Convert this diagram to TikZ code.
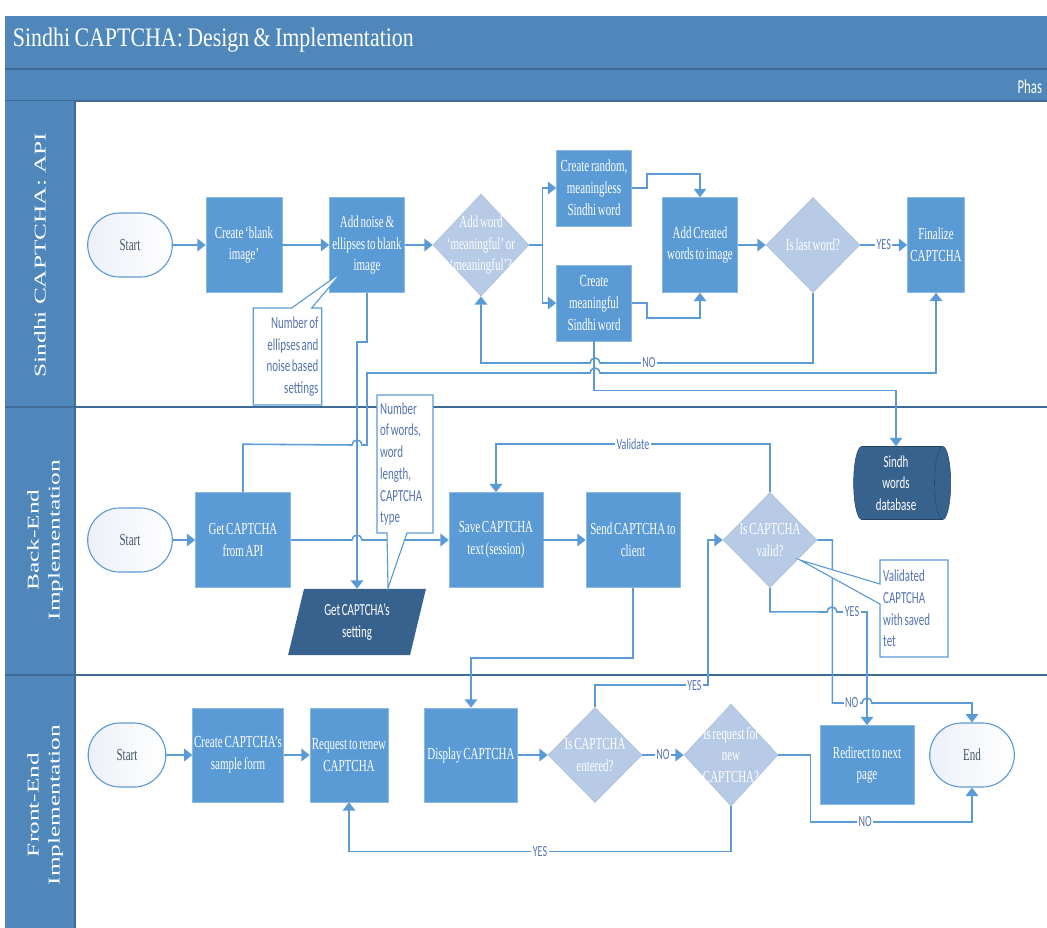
\documentclass[tikz,border=0pt]{standalone}
\usepackage{fontspec}
\setmainfont{Liberation Serif}
\newfontfamily\boxfont[FakeStretch=0.65, WordSpace=0.65]{Liberation Serif}
\newfontfamily\notefont[FakeStretch=0.65, WordSpace=0.65]{Carlito}
\newfontfamily\titlefont[FakeStretch=0.82, WordSpace=0.8]{Liberation Serif}
\usepackage{tikz}
\usetikzlibrary{positioning,arrows.meta,shapes.geometric,shapes.misc,shapes.callouts,calc}

\definecolor{hdrblue}{RGB}{79,135,186}
\definecolor{hdrline}{RGB}{62,108,150}
\definecolor{procblue}{RGB}{91,155,213}
\definecolor{decblue}{RGB}{183,202,230}
\definecolor{datablue}{RGB}{56,98,142}
\definecolor{linkblue}{RGB}{91,155,213}
\definecolor{notetext}{RGB}{84,116,176}
\definecolor{termtext}{RGB}{68,84,106}
\definecolor{termshade}{RGB}{236,240,248}

\begin{document}
\begin{tikzpicture}[
  x=0.025cm, y=-0.025cm,
  every node/.style={align=center},
  proc/.style   ={rectangle, fill=procblue, draw=procblue!70!white, text=white,
                  font=\boxfont\fontsize{12}{15.5}\selectfont, inner sep=1pt,
                  minimum width=18.75mm, minimum height=23.75mm},
  dec/.style    ={diamond, fill=decblue, draw=decblue!85!gray, inner sep=0pt,
                  minimum width=23.5mm, minimum height=23.75mm},
  dectext/.style={text=white, font=\boxfont\fontsize{12}{15.5}\selectfont,
                  align=center, inner sep=0pt},
  term/.style   ={rounded rectangle, draw=procblue, line width=0.8pt,
                  left color=termshade, right color=white, text=termtext,
                  font=\boxfont\fontsize{12}{15.5}\selectfont,
                  minimum width=23.5mm, minimum height=16mm},
  data/.style   ={trapezium, trapezium left angle=75, trapezium right angle=105,
                  trapezium stretches=true, fill=datablue, text=white,
                  font=\notefont\fontsize{12}{15.5}\selectfont,
                  minimum width=34.5mm, minimum height=16.5mm, inner sep=0pt},
  db/.style     ={cylinder, shape border rotate=0, aspect=0.25, inner xsep=0pt,
                  cylinder uses custom fill, cylinder body fill=datablue,
                  cylinder end fill=datablue, draw=datablue!70!black,
                  text=white, font=\notefont\fontsize{12}{15.5}\selectfont,
                  minimum width=18.25mm, minimum height=24.25mm},
  note/.style   ={rectangle callout, draw=linkblue, line width=0.8pt, fill=white,
                  text=notetext, font=\notefont\fontsize{12}{15.5}\selectfont,
                  callout pointer width=5mm, inner sep=0.8mm},
  link/.style   ={draw=linkblue, line width=1.1pt},
  flow/.style   ={link, -{Triangle[length=6pt, width=9pt]}},
  lbl/.style    ={fill=white, inner sep=1pt, text=notetext,
                  font=\notefont\fontsize{11}{12}\selectfont},
  lane/.style   ={text=white, rotate=90, font=\fontsize{18}{23}\selectfont},
]

\useasboundingbox (0,0) rectangle (1047,928);

% Header bands and swimlanes
\fill[hdrblue] (5,16) rectangle (1047,101);
\draw[hdrline, line width=1.5pt] (5,69) -- (1047,69);
\draw[hdrline, line width=1pt] (5,101) -- (1047,101);
\fill[hdrblue] (5,101) rectangle (75,928);
\draw[hdrline, line width=0.8pt] (75,101) -- (75,928);
\draw[hdrline, line width=1.6pt] (5,407) -- (1047,407);
\draw[hdrline, line width=1.6pt] (5,675) -- (1047,675);

\node[anchor=west, text=white, font=\titlefont\fontsize{19}{21}\selectfont] (title) at (8,40)
  {Sindhi CAPTCHA: Design \& Implementation};
\node[anchor=east, text=white, font=\notefont\fontsize{14}{16}\selectfont] (phase) at (1047,87) {Phas};

\node[lane] (lane1) at (40,255) {\scalebox{1}[0.65]{Sindhi CAPTCHA: API}};
\node[lane] (lane2) at (45,540) {\scalebox{1}[0.65]{\begin{tabular}{@{}c@{}}Back-End\\Implementation\end{tabular}}};
\node[lane] (lane3) at (45,805) {\scalebox{1}[0.65]{\begin{tabular}{@{}c@{}}Front-End\\Implementation\end{tabular}}};

% Sindhi CAPTCHA: API
\node[term] (start1) at (130,245) {Start};
\node[proc, minimum width=19mm] (blank) at (244,245) {Create ‘blank\\image’};
\node[proc] (noise) at (367,245) {Add noise \&\\ellipses to blank\\image};
\node[dec, minimum width=24mm, minimum height=25.5mm,
      label={[dectext]center:{Add word\\‘meaningful’ or\\‘meaningful’?}}] (d1) at (481,245) {};
\node[proc, minimum height=19mm] (rand) at (594,188) {Create random,\\meaningless\\Sindhi word};
\node[proc, minimum height=19mm] (mean) at (594,303) {Create\\meaningful\\Sindhi word};
\node[proc] (addw) at (700,245) {Add Created\\words to image};
\node[dec, label={[dectext]center:{Is last word?}}] (d2) at (813,245) {};
\node[proc, minimum width=14.25mm] (fin) at (936,245) {Finalize\\CAPTCHA};

% Back-End Implementation
\node[term] (start2) at (130,540) {Start};
\node[proc, minimum width=23.75mm] (api) at (243,540) {Get CAPTCHA\\from API};
\node[data] (setting) at (357,622) {Get CAPTCHA’s\\setting};
\node[proc, minimum width=23.5mm] (save) at (496,540) {Save CAPTCHA\\text (session)};
\node[proc, minimum width=23.5mm] (send) at (633,540) {Send CAPTCHA to\\client};
\node[dec, label={[dectext]center:{Is CAPTCHA\\valid?}}] (valid) at (770,540) {};
\node[db] (words) at (896,483) {Sindh\\words\\database};

% Front-End Implementation
\node[term, minimum width=21.75mm] (start3) at (127,755) {Start};
\node[proc, minimum width=21mm, minimum height=23.5mm] (form) at (238,755) {Create CAPTCHA’s\\sample form};
\node[proc, minimum width=19.5mm, minimum height=23.5mm] (renew) at (349,755) {Request to renew\\CAPTCHA};
\node[proc, minimum width=23.25mm, minimum height=23.5mm] (disp) at (471,755) {Display CAPTCHA};
\node[dec, label={[dectext]center:{Is CAPTCHA\\entered?}}] (entered) at (595,755) {};
\node[dec, minimum height=25.5mm, label={[dectext]center:{Is request for\\new\\CAPTCHA?}}] (reqnew) at (731,755) {};
\node[proc, minimum width=23.5mm, minimum height=19.75mm] (redir) at (867,765) {Redirect to next\\page};
\node[term] (end) at (972,755) {End};

% API lane connectors
\draw[flow] (start1) -- (blank);
\draw[flow] (blank) -- (noise);
\draw[flow] (noise) -- (d1);
\draw[link] (d1.east) -- ++(13,0) coordinate (split);
\draw[flow] (split) |- (rand.west);
\draw[flow] (split) |- (mean.west);
\draw[flow] (rand.east) -- ++(15,0) -- ++(0,-14) -| (addw.north);
\draw[flow] (mean.east) -- ++(15,0) -- ++(0,15) -| (addw.south);
\draw[flow] (addw) -- (d2);
\draw[flow] (d2) -- node[lbl]{YES} (fin);
\draw[flow] (d2.south) -- (813,363) -- node[lbl, pos=0.77]{NO} (600,363)
   arc[start angle=0, end angle=-180, radius=5] -| (d1.south);
\draw[flow] (mean.south) -- ++(0,49) -| (words.north);
\draw[flow] (noise.south) -- ++(0,49) -| (setting.north);
\draw[flow] (api.north) -- ++(0,-48) -- (352,445)
   arc[start angle=180, end angle=360, radius=5] -- (367,445) -- (367,373) -- (590,373)
   arc[start angle=180, end angle=360, radius=5] -| (fin.south);

% Back-end connectors
\draw[flow] (start2) -- (api);
\draw[flow] (api.east) -- (352,540) arc[start angle=180, end angle=360, radius=5] -- (save.west);
\draw[flow] (save) -- (send);
\draw[flow] (valid.north) -- ++(0,-48) -| node[lbl, pos=0.25]{Validate} (save.north);
\draw[flow] (send.south) -- ++(0,70) -| (disp.north);
\draw[flow] (valid.east) -- ++(15,0) -- ++(0,163) -- node[lbl, pos=0.65]{NO} (862,703)
   arc[start angle=180, end angle=360, radius=5] -| (end.north);
\draw[flow] (valid.south) -- ++(0,24) -- (827,612)
   arc[start angle=180, end angle=360, radius=5] -| node[lbl, pos=0.25]{YES} (redir.north);

% Front-end connectors
\draw[flow] (start3) -- (form);
\draw[flow] (form) -- (renew);
\draw[flow] (disp) -- (entered);
\draw[flow] (entered) -- node[lbl]{NO} (reqnew);
\draw[flow] (entered.north) -- ++(0,-22) -| node[lbl, pos=0.44]{YES} (708,540) -- (valid.west);
\draw[flow] (reqnew.south) -- ++(0,45) -| node[lbl, pos=0.25]{YES} (renew.south);
\draw[flow] (reqnew.east) -- ++(32,0) -- ++(0,67) -| node[lbl, pos=0.17]{NO} (end.south);

% Annotations
\node[note, text width=15.5mm, align=flush right, minimum height=24.25mm,
      callout absolute pointer={(342,272)}] (note1) at (287.5,356.5)
  {Number of\\ellipses and\\noise based\\settings};
\node[note, text width=12.4mm, align=flush left, minimum height=34.5mm,
      callout absolute pointer={(388,588)}] (note2) at (405,464)
  {Number\\of words,\\word\\length,\\CAPTCHA\\type};
\node[note, text width=15.4mm, align=flush left, minimum height=24.25mm,
      callout absolute pointer={(800,560)}] (note3) at (914,608.5)
  {Validated\\CAPTCHA\\with saved\\tet};

\end{tikzpicture}
\end{document}
